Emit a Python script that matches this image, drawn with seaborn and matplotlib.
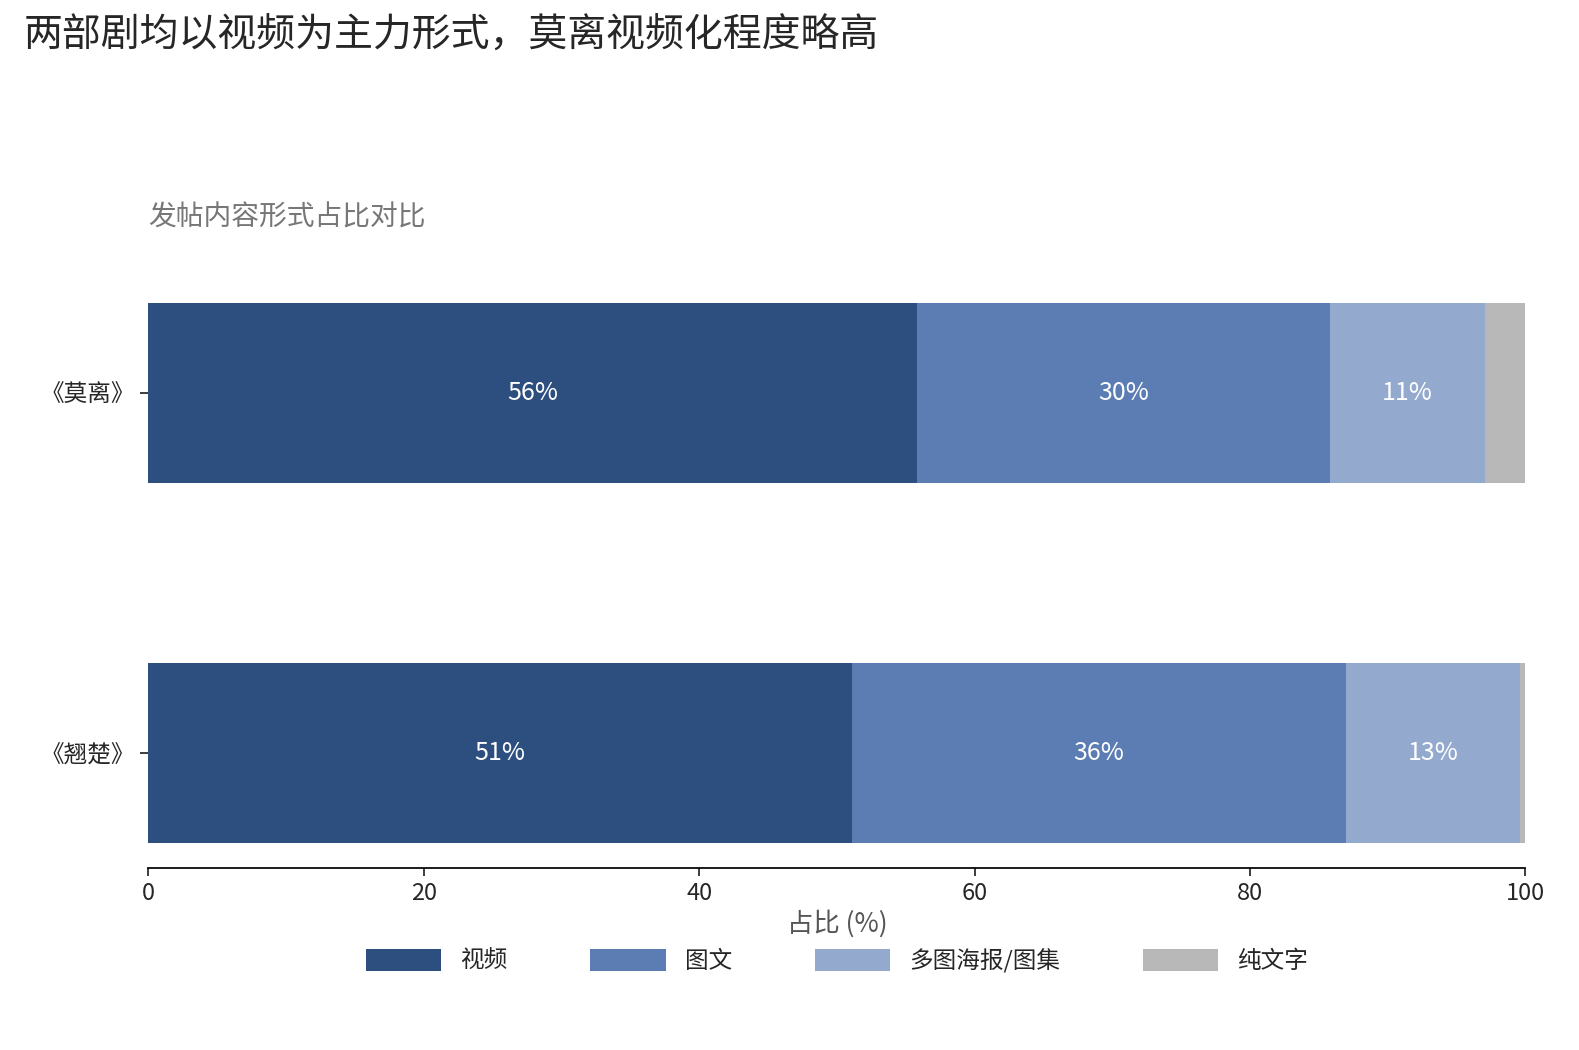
import pandas as pd
import matplotlib.pyplot as plt
import seaborn as sns

sns.set_theme(style="white")
plt.rcParams['font.family'] = ['Noto Sans CJK SC', 'DejaVu Sans']

# 数据
dramas = ['《莫离》', '《翘楚》']
categories = ['视频', '图文', '多图海报/图集', '纯文字']
video = [55.8, 51.1]
image_text = [30.0, 35.9]
poster = [11.3, 12.6]
text_only = [2.9, 0.4]
colors = ['#2c4f80', '#5b7db3', '#93a9ce', '#b8b8b8']

df = pd.DataFrame({'剧': dramas, '视频': video, '图文': image_text,
                   '多图海报/图集': poster, '纯文字': text_only})

fig, ax = plt.subplots(figsize=(15.79, 10.5), dpi=100)
fig.subplots_adjust(left=0.094, right=0.966, top=0.735, bottom=0.173)

left = [0.0] * len(df)
for cat, col in zip(categories, colors):
    # 用 seaborn 画每一段
    sns.barplot(x=df[cat], y=df['剧'], left=left, color=col, label=cat,
                orient='h', width=0.5, saturation=1, linewidth=0, ax=ax)
    for i, v in enumerate(df[cat]):
        if v >= 5:
            ax.text(left[i] + v / 2, i, f'{v:.0f}%', ha='center', va='center',
                    color='white', fontsize=18)
    left = [l + v for l, v in zip(left, df[cat])]

ax.set_xlim(0, 100)
ax.set_ylim(1.32, -0.32)
ax.set_xlabel('占比 (%)', fontsize=19, color='#555555')
ax.set_ylabel('')
ax.tick_params(axis='x', labelsize=17, length=6, bottom=True)
ax.tick_params(axis='y', labelsize=17, length=6, left=True)
for s in ['top', 'right', 'left']:
    ax.spines[s].set_visible(False)
ax.spines['bottom'].set_color('black')

ax.set_title('发帖内容形式占比对比', loc='left', fontsize=20, color='#777777', pad=38)
fig.suptitle('两部剧均以视频为主力形式，莫离视频化程度略高', x=0.015, y=0.985,
             ha='left', fontsize=28)

ax.legend(loc='upper center', bbox_to_anchor=(0.5, -0.1), ncol=4, frameon=False,
          fontsize=17, handlelength=3.2, handleheight=1.1, columnspacing=3.5)

fig.savefig('out.png', dpi=100)
